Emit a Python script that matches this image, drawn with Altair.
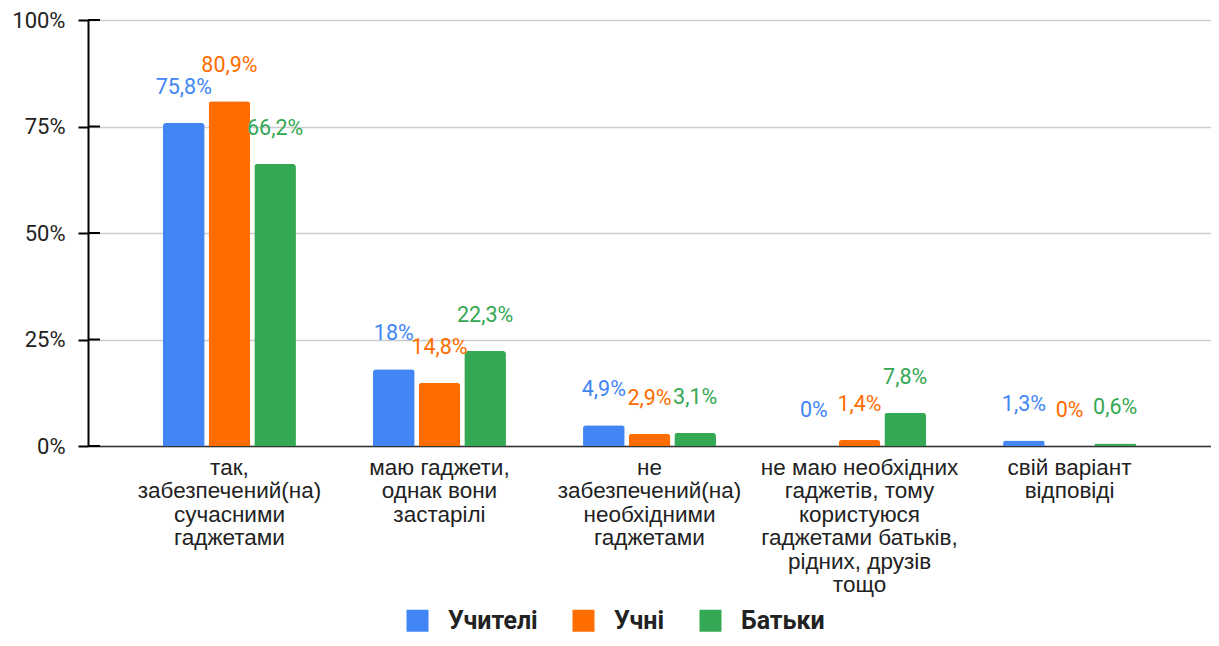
import altair as alt
import pandas as pd

categories = [
    "так,\nзабезпечений(на)\nсучасними\nгаджетами",
    "маю гаджети,\nоднак вони\nзастарілі",
    "не\nзабезпечений(на)\nнеобхідними\nгаджетами",
    "не маю необхідних\nгаджетів, тому\nкористуюся\nгаджетами батьків,\nрідних, друзів\nтощо",
    "свій варіант\nвідповіді",
]
series = ["Учителі", "Учні", "Батьки"]
colors = ["#4285F4", "#FF6D01", "#34A853"]
teachers = [75.8, 18, 4.9, 0, 1.3]
pupils = [80.9, 14.8, 2.9, 1.4, 0]
parents = [66.2, 22.3, 3.1, 7.8, 0.6]
y_ticks = [0, 25, 50, 75, 100]

rows = []
for s, vals in zip(series, [teachers, pupils, parents]):
    for c, v in zip(categories, vals):
        rows.append({"cat": c, "series": s, "value": v,
                     "label": f"{v:g}".replace(".", ",") + "%"})
df = pd.DataFrame(rows)
ticks_df = pd.DataFrame({"t": y_ticks})

FONT = "Roboto"
XFONT = "Liberation Sans"

x_enc = alt.X("cat:N", sort=categories, title=None,
              scale=alt.Scale(paddingInner=0.367, paddingOuter=0.357),
              axis=alt.Axis(labelAngle=0, labelExpr="split(datum.label, '\\n')",
                            labelFontSize=22.5, labelColor="#222222", labelFont=XFONT,
                            labelLineHeight=23.5, labelPadding=10, ticks=False,
                            domainColor="#333333", domainWidth=1.5, labelLimit=300))
y_scale = alt.Scale(domain=[0, 100])
xoff = alt.XOffset("series:N", sort=series, scale=alt.Scale(paddingInner=0.088))
color_scale = alt.Scale(domain=series, range=colors)

bars = alt.Chart(df).mark_bar(cornerRadiusTopLeft=3, cornerRadiusTopRight=3).encode(
    x=x_enc,
    xOffset=xoff,
    y=alt.Y("value:Q", scale=y_scale, title=None,
            axis=alt.Axis(values=y_ticks, labelExpr="datum.value + '%'",
                          labelFontSize=22, labelColor="#222222", labelFont=FONT,
                          tickSize=10, tickColor="#000000", tickWidth=2,
                          domainColor="#000000", domainWidth=2, labelPadding=13,
                          gridColor="#cccccc", gridWidth=1.5)),
    color=alt.Color("series:N", sort=series, scale=color_scale,
                    legend=alt.Legend(title=None, orient="none", direction="horizontal",
                                      legendX=317, legendY=588, padding=0,
                                      symbolType="square", symbolSize=484,
                                      symbolStrokeWidth=0, labelFontSize=25,
                                      labelFontWeight="bold", labelFont=FONT,
                                      labelColor="#222222", columnPadding=33,
                                      labelOffset=18)),
)

labels = alt.Chart(df).mark_text(dy=-35, fontSize=21.5, font=FONT, baseline="middle").encode(
    x=alt.X("cat:N", sort=categories),
    xOffset=alt.XOffset("series:N", sort=series),
    y=alt.Y("value:Q", scale=y_scale),
    text="label:N",
    color=alt.Color("series:N", sort=series, scale=color_scale, legend=None),
)

inner_ticks = alt.Chart(ticks_df).mark_rule(color="#000000", strokeWidth=2).encode(
    y=alt.Y("t:Q", scale=y_scale),
    x=alt.value(0),
    x2=alt.value(12),
)

chart = alt.layer(bars, labels, inner_ticks).properties(
    width=1123, height=426,
    autosize=alt.AutoSizeParams(type="none"),
    padding={"left": 80, "top": 12, "right": 0, "bottom": 188},
).configure_view(stroke=None).configure(font=FONT)

chart.save("out.html", embed_options={"renderer": "svg", "actions": False})
